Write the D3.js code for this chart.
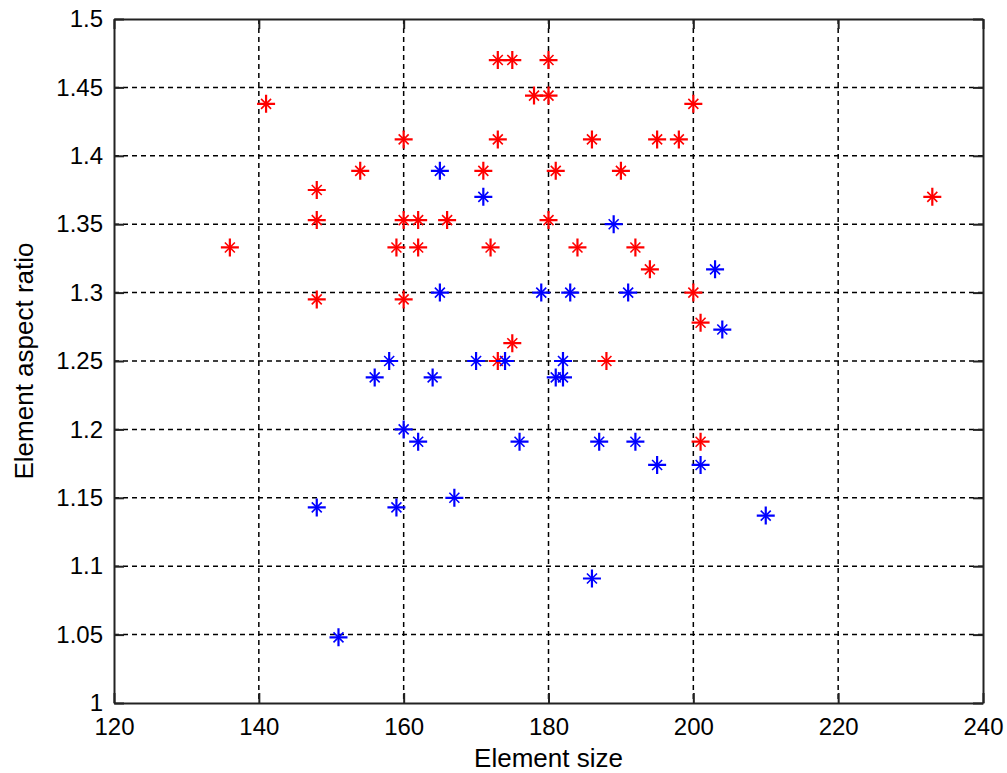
<!DOCTYPE html>
<html>
<head>
<meta charset="utf-8">
<title>Element size vs aspect ratio</title>
<script src="https://cdn.jsdelivr.net/npm/d3@7"></script>
<style>
  body { margin: 0; background: #fff; }
  svg text { font-family: "Liberation Sans", Arial, sans-serif; fill: #000; }
</style>
</head>
<body>
<div id="chart"></div>
<script>
// axis ticks
var xTicks = [120, 140, 160, 180, 200, 220, 240];
var yTicks = [1, 1.05, 1.1, 1.15, 1.2, 1.25, 1.3, 1.35, 1.4, 1.45, 1.5];
var yTickLabels = ["1", "1.05", "1.1", "1.15", "1.2", "1.25", "1.3", "1.35", "1.4", "1.45", "1.5"];

// red series
var redSize  = [136, 141, 148, 148, 148, 154, 159, 160, 160, 160, 162, 162, 166, 171, 172, 173, 173, 173, 175, 175,
                178, 180, 180, 180, 181, 184, 186, 188, 190, 192, 194, 195, 198, 200, 200, 201, 201, 233];
var redRatio = [1.333, 1.438, 1.375, 1.353, 1.295, 1.389, 1.333, 1.412, 1.353, 1.295, 1.353, 1.333, 1.353, 1.389, 1.333, 1.47, 1.412, 1.25, 1.47, 1.263,
                1.444, 1.47, 1.444, 1.353, 1.389, 1.333, 1.412, 1.25, 1.389, 1.333, 1.317, 1.412, 1.412, 1.438, 1.3, 1.278, 1.191, 1.37];

// blue series
var blueSize  = [148, 151, 156, 158, 159, 160, 162, 164, 165, 165, 167, 170, 171, 174, 176, 179, 181, 182, 182, 183,
                 186, 187, 189, 191, 192, 195, 201, 203, 204, 210];
var blueRatio = [1.143, 1.048, 1.238, 1.25, 1.143, 1.2, 1.191, 1.238, 1.389, 1.3, 1.15, 1.25, 1.37, 1.25, 1.191, 1.3, 1.238, 1.25, 1.238, 1.3,
                 1.091, 1.191, 1.35, 1.3, 1.191, 1.174, 1.174, 1.317, 1.273, 1.137];

var width = 1007, height = 773;
var margin = {top: 19, right: 24, bottom: 70, left: 114};
var w = width - margin.left - margin.right,
    h = height - margin.top - margin.bottom;

var svg = d3.select("#chart").append("svg")
    .attr("width", width)
    .attr("height", height);

svg.append("rect").attr("width", width).attr("height", height).attr("fill", "#fff");

var g = svg.append("g").attr("transform", "translate(" + margin.left + "," + margin.top + ")");

var x = d3.scaleLinear().domain([120, 240]).range([0, w]);
var y = d3.scaleLinear().domain([1, 1.5]).range([h, 0]);

// dashed grid
g.append("g").selectAll("line")
    .data(xTicks.slice(1, -1))
    .enter().append("line")
    .attr("x1", d => x(d)).attr("x2", d => x(d))
    .attr("y1", 0).attr("y2", h)
    .attr("stroke", "#000").attr("stroke-width", 1.5)
    .attr("stroke-dasharray", "5,4");

g.append("g").selectAll("line")
    .data(yTicks.slice(1, -1))
    .enter().append("line")
    .attr("y1", d => y(d)).attr("y2", d => y(d))
    .attr("x1", 0).attr("x2", w)
    .attr("stroke", "#000").attr("stroke-width", 1.5)
    .attr("stroke-dasharray", "5,4");

// axes, ticks pointing inward like matlab
function styleAxis(sel) {
    sel.select(".domain").attr("stroke", "#222").attr("stroke-width", 2);
    sel.selectAll(".tick line").attr("stroke", "#222").attr("stroke-width", 2);
    sel.selectAll(".tick text").attr("font-size", 24).attr("fill", "#000")
        .style("font-family", "'Liberation Sans', Arial, sans-serif");
}

g.append("g")
    .attr("transform", "translate(0," + h + ")")
    .call(d3.axisBottom(x).tickValues(xTicks).tickSize(-10).tickSizeOuter(0).tickPadding(15))
    .call(styleAxis);

g.append("g")
    .call(d3.axisTop(x).tickValues(xTicks).tickSize(-10).tickSizeOuter(0).tickFormat(""))
    .call(styleAxis);

g.append("g")
    .call(d3.axisLeft(y).tickValues(yTicks).tickSize(-10).tickSizeOuter(0).tickPadding(11)
        .tickFormat((d, i) => yTickLabels[i]))
    .call(styleAxis);

g.append("g")
    .attr("transform", "translate(" + w + ",0)")
    .call(d3.axisRight(y).tickValues(yTicks).tickSize(-10).tickSizeOuter(0).tickFormat(""))
    .call(styleAxis);

// '*' markers : plus + small x
var plusArm = 9, xArm = 5;
var starPlus = "M" + (-plusArm) + ",0H" + plusArm + "M0," + (-plusArm) + "V" + plusArm;
var starX = "M" + (-xArm) + "," + (-xArm) + "L" + xArm + "," + xArm +
            "M" + (-xArm) + "," + xArm + "L" + xArm + "," + (-xArm);

function drawStars(xs, ys, color) {
    var pts = xs.map((d, i) => [d, ys[i]]);
    var s = g.append("g").selectAll("g")
        .data(pts)
        .enter().append("g")
        .attr("transform", d => "translate(" + x(d[0]) + "," + y(d[1]) + ")");
    s.append("path").attr("d", starPlus)
        .attr("stroke", color).attr("stroke-width", 2.2).attr("fill", "none");
    s.append("path").attr("d", starX)
        .attr("stroke", color).attr("stroke-width", 1.6).attr("fill", "none");
}

drawStars(redSize, redRatio, "#ff0000");
drawStars(blueSize, blueRatio, "#0000ff");

// axis labels
svg.append("text")
    .attr("x", margin.left + w / 2)
    .attr("y", 767)
    .attr("text-anchor", "middle")
    .attr("font-size", 26)
    .text("Element size");

svg.append("text")
    .attr("transform", "translate(33," + (margin.top + h / 2) + ") rotate(-90)")
    .attr("text-anchor", "middle")
    .attr("font-size", 26)
    .text("Element aspect ratio");
</script>
</body>
</html>
